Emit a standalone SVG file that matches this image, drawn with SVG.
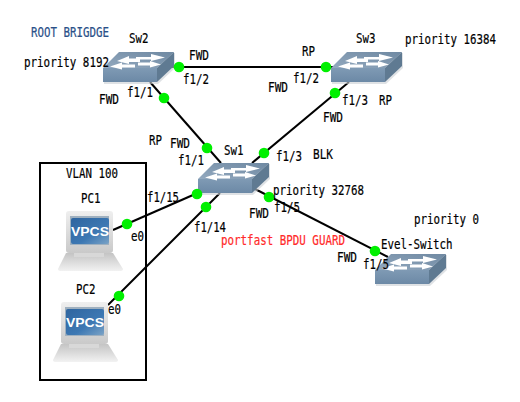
<svg xmlns="http://www.w3.org/2000/svg" width="520" height="402" viewBox="0 0 520 402">
<style>
text{font-family:"DejaVu Sans Mono","Liberation Mono",monospace;font-size:14px;fill:#000;stroke:#000;stroke-width:.2px}
.root{fill:#2a5088;stroke:#2a5088}
.red{fill:#ff2a2a;stroke:#ff2a2a}
.link{stroke:#000;stroke-width:2;fill:none}
.dot{fill:#00f000}
text.vt{font-family:"Liberation Sans",Arial,sans-serif;font-size:13.5px;font-weight:bold;fill:#fff;stroke:none}
</style>
<defs>
<linearGradient id="top" x1="0" y1="1" x2="1" y2="0"><stop offset="0" stop-color="#93a9bf"/><stop offset="1" stop-color="#6f89a2"/></linearGradient>
<linearGradient id="front" x1="0" y1="0" x2="0" y2="1"><stop offset="0" stop-color="#7f9ab4"/><stop offset="1" stop-color="#6c89a6"/></linearGradient>
<linearGradient id="scr" x1="0" y1="0" x2="1" y2="1"><stop offset="0" stop-color="#2f659f"/><stop offset="0.6" stop-color="#3d78b3"/><stop offset="1" stop-color="#7ba3c6"/></linearGradient>
<linearGradient id="bez" x1="0" y1="0" x2="0" y2="1"><stop offset="0" stop-color="#efefef"/><stop offset="1" stop-color="#c9c9c9"/></linearGradient>
<linearGradient id="base" x1="0" y1="0" x2="0" y2="1"><stop offset="0" stop-color="#c4c4c4"/><stop offset="1" stop-color="#f2f2f2"/></linearGradient>
<g id="sw">
<path d="M1 32H55L72 16V1H16L0 17Z" fill="#c9ced3" opacity=".6"/>
<path d="M0 16L16 0H71L54 16Z" fill="url(#top)"/>
<path d="M54 16L71 0V14L54 30Z" fill="#5f7a92"/>
<rect x="0" y="16" width="54" height="14" fill="url(#front)"/>
<path d="M14 9L26 4V6.500H37V10H26V12ZM33 5H48V2L62 5.500 48 9V7.500H33ZM7 14.500L19 10.500V12.500H32V15.500H19V17.500ZM35 10.500H47V9L58 12.500 47 15.500V13.500H35Z" fill="#fff"/>
</g>
<g id="pc">
<path d="M8 42H55L65 58Q65 60 62 60H3Q0 60 0 58Z" fill="url(#base)"/>
<rect x="16" y="40" width="30" height="6" fill="#d8d8d8"/>
<rect x="8" y="0" width="47" height="42" rx="3" fill="url(#bez)"/>
<rect x="12" y="5" width="39" height="29" fill="#9fb0bf"/>
<rect x="13" y="7" width="38" height="26" rx="2" fill="url(#scr)"/>
<text class="vt" x="13" y="25" textLength="38" lengthAdjust="spacingAndGlyphs">VPCS</text>
</g>
</defs>
<rect x="40" y="163" width="106" height="217" fill="none" stroke="#000" stroke-width="2"/>
<g id="connectors">
<path class="link" d="M172 67H335"/>
<path class="link" d="M150 82L221 163"/>
<path class="link" d="M349 82L252 163"/>
<path class="link" d="M255 189L388 257"/>
<path class="link" d="M193 195L113 230"/>
<path class="link" d="M220 193L108 305"/>
</g>
<g id="Sw2"><use href="#sw" x="103" y="52"/><text x="129" y="43" textLength="19.500" lengthAdjust="spacingAndGlyphs">Sw2</text></g>
<g id="Sw3"><use href="#sw" x="331" y="52"/><text x="356" y="43" textLength="19.500" lengthAdjust="spacingAndGlyphs">Sw3</text></g>
<g id="Sw1"><use href="#sw" x="198" y="163"/><text x="224" y="155" textLength="19.500" lengthAdjust="spacingAndGlyphs">Sw1</text></g>
<g id="Evel-Switch"><use href="#sw" x="375" y="254"/><text x="381" y="249" textLength="71.500" lengthAdjust="spacingAndGlyphs">Evel-Switch</text></g>
<g id="PC1"><use href="#pc" x="58" y="211"/><text x="81" y="203" textLength="19.500" lengthAdjust="spacingAndGlyphs">PC1</text></g>
<g id="PC2"><use href="#pc" x="53" y="302"/><text x="76" y="294" textLength="19.500" lengthAdjust="spacingAndGlyphs">PC2</text></g>
<g id="ports">
<circle class="dot" cx="179" cy="67" r="5.300"/>
<circle class="dot" cx="164" cy="98" r="5.300"/>
<circle class="dot" cx="326" cy="67" r="5.300"/>
<circle class="dot" cx="335" cy="93" r="5.300"/>
<circle class="dot" cx="207" cy="148" r="5.300"/>
<circle class="dot" cx="264" cy="153" r="5.300"/>
<circle class="dot" cx="197" cy="194" r="5.300"/>
<circle class="dot" cx="206" cy="207" r="5.300"/>
<circle class="dot" cx="269" cy="197" r="5.300"/>
<circle class="dot" cx="375" cy="251" r="5.300"/>
<circle class="dot" cx="127" cy="224" r="5.300"/>
<circle class="dot" cx="119" cy="296" r="5.300"/>
</g>
<g id="labels">
<text class="root" x="31" y="37" textLength="78" lengthAdjust="spacingAndGlyphs">ROOT BRIGDGE</text>
<text x="24" y="67" textLength="85" lengthAdjust="spacingAndGlyphs">priority 8192</text>
<text transform="translate(405 44) scale(.771 1)">priority 16384</text>
<text x="273" y="195" textLength="91" lengthAdjust="spacingAndGlyphs">priority 32768</text>
<text x="414" y="224" textLength="65" lengthAdjust="spacingAndGlyphs">priority 0</text>
<text x="189" y="60" textLength="20" lengthAdjust="spacingAndGlyphs">FWD</text>
<text x="183" y="84" textLength="26" lengthAdjust="spacingAndGlyphs">f1/2</text>
<text x="99" y="104" textLength="20" lengthAdjust="spacingAndGlyphs">FWD</text>
<text x="127" y="97" textLength="26" lengthAdjust="spacingAndGlyphs">f1/1</text>
<text x="302" y="56" textLength="13" lengthAdjust="spacingAndGlyphs">RP</text>
<text x="293" y="83" textLength="26" lengthAdjust="spacingAndGlyphs">f1/2</text>
<text x="268" y="92" textLength="20" lengthAdjust="spacingAndGlyphs">FWD</text>
<text x="342" y="105" textLength="26" lengthAdjust="spacingAndGlyphs">f1/3</text>
<text x="379" y="105" textLength="13" lengthAdjust="spacingAndGlyphs">RP</text>
<text x="323" y="122" textLength="20" lengthAdjust="spacingAndGlyphs">FWD</text>
<text x="149" y="145" textLength="13" lengthAdjust="spacingAndGlyphs">RP</text>
<text x="170" y="148" textLength="20" lengthAdjust="spacingAndGlyphs">FWD</text>
<text x="178" y="165" textLength="26" lengthAdjust="spacingAndGlyphs">f1/1</text>
<text x="276" y="161" textLength="26" lengthAdjust="spacingAndGlyphs">f1/3</text>
<text x="313" y="159" textLength="20" lengthAdjust="spacingAndGlyphs">BLK</text>
<text x="274" y="212" textLength="26" lengthAdjust="spacingAndGlyphs">f1/5</text>
<text x="249" y="218" textLength="20" lengthAdjust="spacingAndGlyphs">FWD</text>
<text x="147" y="202" textLength="32" lengthAdjust="spacingAndGlyphs">f1/15</text>
<text x="194" y="232" textLength="32" lengthAdjust="spacingAndGlyphs">f1/14</text>
<text class="red" x="221" y="245" textLength="124" lengthAdjust="spacingAndGlyphs">portfast BPDU GUARD</text>
<text x="337" y="262" textLength="20" lengthAdjust="spacingAndGlyphs">FWD</text>
<text x="363" y="269" textLength="26" lengthAdjust="spacingAndGlyphs">f1/5</text>
<text x="131" y="241" textLength="13" lengthAdjust="spacingAndGlyphs">e0</text>
<text x="108" y="314" textLength="13" lengthAdjust="spacingAndGlyphs">e0</text>
<text x="66" y="178" textLength="52" lengthAdjust="spacingAndGlyphs">VLAN 100</text>
</g>
</svg>
